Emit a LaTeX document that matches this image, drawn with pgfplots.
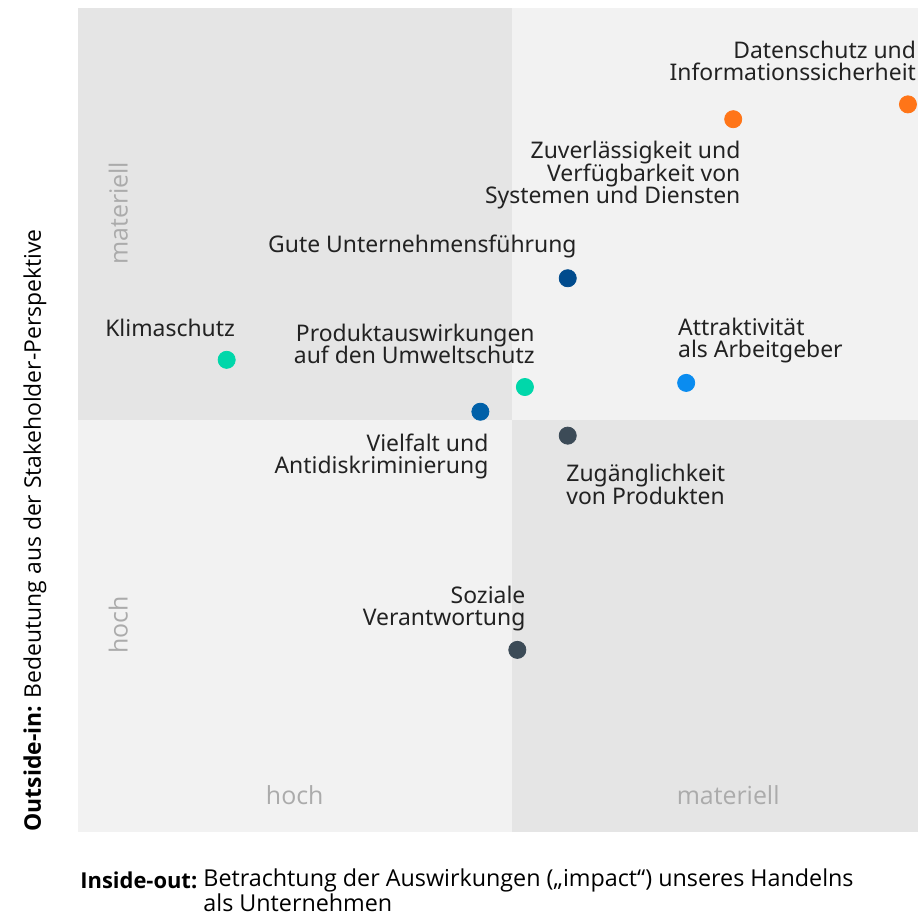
\documentclass[border=0pt]{standalone}
\usepackage{fontspec}
\setmainfont{Noto Sans}
\newfontfamily\condfont{Open Sans}
\usepackage{pgfplots}
\pgfplotsset{compat=1.18}
\definecolor{qdark}{HTML}{E5E5E5}
\definecolor{qlight}{HTML}{F2F2F2}
\definecolor{cOrange}{RGB}{255,117,24}
\definecolor{cNavy}{HTML}{004B8D}
\definecolor{cTeal}{RGB}{0,215,170}
\definecolor{cBlue}{HTML}{0A8CF0}
\definecolor{cMid}{HTML}{0060A8}
\definecolor{cSlate}{HTML}{3C4B57}
\definecolor{txt}{HTML}{222222}
\definecolor{qtxt}{HTML}{ABABAB}
\newcommand{\lblfont}{\fontsize{11.5}{11.2}\selectfont\lineskiplimit=-20pt\relax}
\begin{document}
\begin{tikzpicture}[x=1bp,y=1bp]
\useasboundingbox (0,0) rectangle (459,457.5);
\begin{axis}[at={(39bp,41.5bp)}, anchor=south west, scale only axis,
  width=420bp, height=412bp, xmin=0, xmax=100, ymin=0, ymax=100,
  axis lines=none, clip=false]
\fill[qdark]  (axis cs:0,50) rectangle (axis cs:51.7,100);
\fill[qlight] (axis cs:51.7,50) rectangle (axis cs:100,100);
\fill[qlight] (axis cs:0,0) rectangle (axis cs:51.7,50);
\fill[qdark]  (axis cs:51.7,0) rectangle (axis cs:100,50);
\addplot[only marks, mark=*, mark size=4.3pt, color=cOrange] coordinates {(98.8,88.3) (78.0,86.5)};
\addplot[only marks, mark=*, mark size=4.3pt, color=cNavy] coordinates {(58.3,67.2)};
\addplot[only marks, mark=*, mark size=4.3pt, color=cTeal] coordinates {(17.7,57.3) (53.2,54.0)};
\addplot[only marks, mark=*, mark size=4.3pt, color=cBlue] coordinates {(72.4,54.5)};
\addplot[only marks, mark=*, mark size=4.3pt, color=cMid] coordinates {(47.9,51.0)};
\addplot[only marks, mark=*, mark size=4.3pt, color=cSlate] coordinates {(58.3,48.1) (52.3,22.1)};
\begin{scope}[every node/.style={inner sep=0pt, text=txt, font=\lblfont}]
\node[anchor=east, align=right] at (axis cs:99.8,93.6) {Datenschutz und\\Informationssicherheit};
\node[anchor=east, align=right] at (axis cs:78.9,79.7) {Zuverlässigkeit und\\Verfügbarkeit von\\Systemen und Diensten};
\node[anchor=east, align=right] at (axis cs:59.4,71.1) {Gute Unternehmensführung};
\node[anchor=west, align=left] at (axis cs:3.2,61.2) {Klimaschutz};
\node[anchor=east, align=right] at (axis cs:54.4,59.2) {Produktauswirkungen\\auf den Umweltschutz};
\node[anchor=west, align=left] at (axis cs:71.4,59.6) {Attraktivität\\als Arbeitgeber};
\node[anchor=east, align=right] at (axis cs:48.9,45.6) {Vielfalt und\\Antidiskriminierung};
\node[anchor=west, align=left] at (axis cs:58.1,42.2) {Zugänglichkeit\\von Produkten};
\node[anchor=east, align=right] at (axis cs:53.3,27.1) {Soziale\\Verantwortung};
\end{scope}
\begin{scope}[every node/.style={inner sep=0pt, text=qtxt, font=\condfont\fontsize{12.5}{14}\selectfont}]
\node at (axis cs:25.8,4.5) {hoch};
\node at (axis cs:77.4,4.5) {materiell};
\node[rotate=90] at (axis cs:4.8,75.1) {materiell};
\node[rotate=90] at (axis cs:4.8,25.1) {hoch};
\end{scope}
\end{axis}
\node[rotate=90, anchor=west, inner sep=0pt, text=black, font=\condfont\fontsize{11.5}{13}\selectfont] at (17.5bp,41.5bp) {\textbf{Outside-in:} Bedeutung aus der Stakeholder-Perspektive};
\node[anchor=west, inner sep=0pt, text=black, font=\condfont\fontsize{11}{13}\selectfont] at (40bp,17.5bp) {\textbf{Inside-out:}};
\node[anchor=west, inner sep=0pt, text=black, font=\condfont\fontsize{11.7}{13}\selectfont] at (101.5bp,17.5bp) {Betrachtung der Auswirkungen („impact“) unseres Handelns};
\node[anchor=west, inner sep=0pt, text=black, font=\condfont\fontsize{11.7}{13}\selectfont] at (101.5bp,6bp) {als Unternehmen};
\end{tikzpicture}
\end{document}
